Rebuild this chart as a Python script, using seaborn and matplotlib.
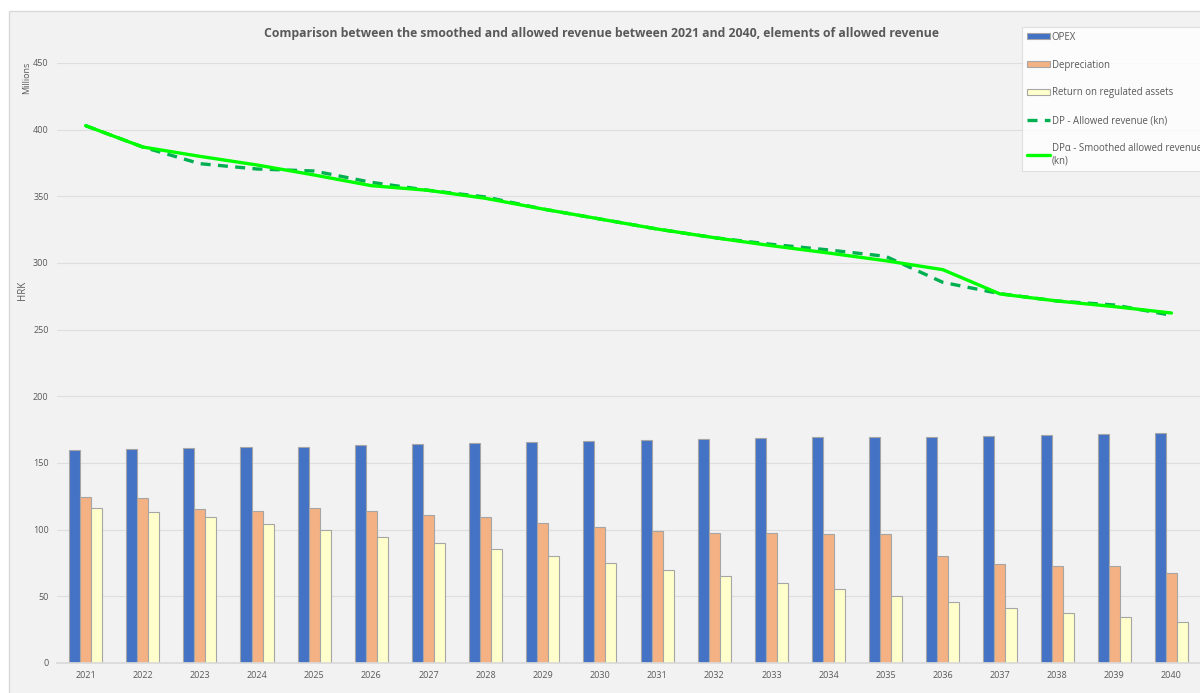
import numpy as np
import pandas as pd
import matplotlib
matplotlib.use("Agg")
import matplotlib.pyplot as plt
import seaborn as sns
from matplotlib.patches import Rectangle, Patch
from matplotlib.lines import Line2D

# Values (HRK, millions)
years = [str(y) for y in range(2021, 2041)]
opex = [160.0, 160.5, 161.0, 161.7, 162.2, 163.5, 164.0, 165.0, 165.5, 166.5,
        167.0, 168.0, 168.7, 169.3, 169.7, 169.8, 170.5, 171.0, 171.8, 172.5]
depreciation = [124.3, 123.5, 115.2, 114.2, 116.2, 114.0, 111.0, 109.3, 105.0, 102.0,
                99.0, 97.5, 97.5, 97.0, 96.8, 80.3, 74.5, 72.8, 72.8, 67.8]
return_assets = [116.3, 113.0, 109.2, 104.0, 99.5, 94.5, 90.0, 85.3, 80.0, 75.0,
                 70.0, 65.0, 60.0, 55.5, 50.0, 45.5, 41.5, 37.7, 34.3, 30.5]
allowed_rev = [403.0, 387.0, 374.5, 370.5, 369.0, 360.5, 354.5, 349.5, 340.5, 333.0,
               325.5, 319.0, 314.0, 309.8, 305.0, 285.5, 277.0, 271.5, 268.5, 260.8]
smoothed_rev = [403.0, 387.0, 380.0, 373.5, 366.0, 358.0, 354.5, 348.5, 340.5, 333.0,
                325.5, 319.0, 313.0, 307.5, 301.7, 295.0, 276.8, 271.5, 267.3, 262.5]

series_names = ["OPEX", "Depreciation", "Return on regulated assets"]
bar_colors = ["#4472c4", "#f4b183", "#ffffcc"]
dp_label = "DP - Allowed revenue (kn)"
dpa_label = "DP\u03b1 - Smoothed allowed revenue\n(kn)"

bars = pd.DataFrame({
    "year": years * 3,
    "value": opex + depreciation + return_assets,
    "series": np.repeat(series_names, len(years)),
})

sns.set_theme(style="white")
plt.rcParams["font.family"] = ["Open Sans", "DejaVu Sans"]

fig = plt.figure(figsize=(12, 6.93), dpi=100)
fig.patch.set_facecolor("white")
# grey chart area like the spreadsheet export
fig.patches.append(Rectangle((9 / 1200, -0.01), 1.0, 1 - 11 / 693 + 0.01,
                             transform=fig.transFigure, facecolor="#f2f2f2",
                             edgecolor="#d9d9d9", linewidth=1.0, zorder=-10))

ax = fig.add_axes([57 / 1200, 30 / 693, 1143 / 1200, 600 / 693])
ax.set_facecolor("none")

sns.barplot(data=bars, x="year", y="value", hue="series", palette=bar_colors,
            saturation=1, width=0.58, edgecolor="#a6a6a6", linewidth=0.8,
            legend=False, ax=ax)

idx = np.arange(len(years))
sns.lineplot(x=idx, y=allowed_rev, color="#00b050", linewidth=2.4,
             linestyle=(0, (3, 2.2)), ax=ax)
sns.lineplot(x=idx, y=smoothed_rev, color="#00ff00", linewidth=2.4, ax=ax)

ax.set_ylim(0, 450)
ax.set_xlim(-0.5, len(years) - 0.5)
ax.set_yticks(np.arange(0, 451, 50))
ax.yaxis.grid(True, color="#dedede", linewidth=0.8)
ax.set_axisbelow(True)
for s in ["top", "right", "left"]:
    ax.spines[s].set_visible(False)
ax.spines["bottom"].set_color("#d9d9d9")
ax.tick_params(axis="both", length=0, labelsize=6.5, colors="#595959", pad=6)
ax.set_xlabel("")
ax.set_ylabel("")

fig.text(22 / 1200, 1 - 290 / 693, "HRK", rotation=90, ha="center", va="center",
         fontsize=7, color="#595959")
fig.text(27 / 1200, 1 - 78 / 693, "Millions", rotation=90, ha="center", va="center",
         fontsize=6.5, color="#595959")
fig.text(602 / 1200, 1 - 33 / 693,
         "Comparison between the smoothed and allowed revenue between 2021 and 2040, elements of allowed revenue",
         ha="center", va="center", fontsize=8.8, fontweight="bold", color="#595959")

handles = [Patch(facecolor=c, edgecolor="#a6a6a6", linewidth=0.8) for c in bar_colors]
handles += [Line2D([0], [0], color="#00b050", linewidth=2.4, linestyle=(0, (3, 2.2))),
            Line2D([0], [0], color="#00ff00", linewidth=2.4)]
labels = series_names + [dp_label, dpa_label]
leg = fig.legend(handles, labels, loc="upper left",
                 bbox_to_anchor=(1022 / 1200, 1 - 27 / 693), frameon=True,
                 fontsize=6.9, labelspacing=1.75, handlelength=2.4, handleheight=0.6,
                 handletextpad=0.2, borderpad=0.5, fancybox=False, borderaxespad=0)
leg.get_frame().set_edgecolor("#d9d9d9")
leg.get_frame().set_linewidth(0.8)
for t in leg.get_texts():
    t.set_color("#595959")

fig.savefig("out.png", dpi=100)
